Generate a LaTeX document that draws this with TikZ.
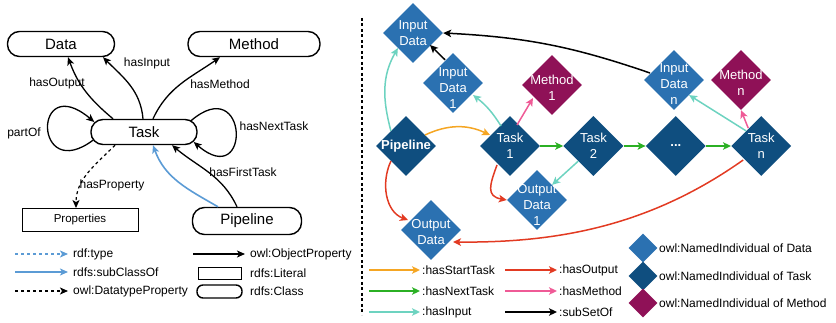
\documentclass[tikz,border=0pt]{standalone}
\usepackage{fontspec}
\setmainfont{Liberation Sans}
\usetikzlibrary{positioning, arrows.meta, shapes.geometric}
\definecolor{datablue}{HTML}{2B71B1}
\definecolor{taskblue}{HTML}{0F4E7F}
\definecolor{methpurple}{HTML}{8F1157}
\definecolor{subblue}{HTML}{5B9BD5}
\definecolor{inteal}{HTML}{6DD3C0}
\definecolor{startorange}{HTML}{F5A623}
\definecolor{nextgreen}{HTML}{2BB024}
\definecolor{outred}{HTML}{E23A22}
\definecolor{methpink}{HTML}{EF5A96}

\begin{document}
\begin{tikzpicture}[x=1pt, y=1pt,
    cls/.style={draw, line width=1.4pt, rounded corners=12pt, minimum height=25pt,
      inner sep=0pt, font=\fontsize{15}{17}\selectfont},
    lit/.style={draw, line width=0.9pt, minimum height=23pt, inner sep=0pt,
      font=\fontsize{11.5}{13}\selectfont},
    lbl/.style={font=\fontsize{12}{14}\selectfont, inner sep=0pt},
    leg/.style={font=\fontsize{12}{14}\selectfont, anchor=west, inner sep=0pt},
    ind/.style={diamond, minimum size=60pt, inner sep=0pt, fill=#1},
    dtxt/.style={text=white, font=\fontsize{13}{16}\selectfont, align=center, inner sep=0pt},
    obj/.style={-{Stealth[length=8pt, width=7pt, inset=2pt]}, line width=1.3pt},
    subc/.style={-{Stealth[length=8pt, width=7pt, inset=2pt]}, subblue, line width=1.6pt},
    rdft/.style={subc, line width=1.2pt, dash pattern=on 3pt off 3pt},
    dtp/.style={obj, line width=1.2pt, dash pattern=on 3pt off 3pt},
    arr/.style={-{Stealth[length=8pt, width=7.5pt, inset=2pt]}, line width=1.5pt, #1},
    hstart/.style={arr=startorange}, hnext/.style={arr=nextgreen},
    hin/.style={arr=inteal}, hout/.style={arr=outred},
    hmeth/.style={arr=methpink}, sub/.style={arr=black}]
  \useasboundingbox (0,0) rectangle (836,-323);

  % ontology classes
  \node[cls, minimum width=107pt] (data) at (61,-44) {Data};
  \node[cls, minimum width=132pt] (method) at (254,-44) {Method};
  \node[cls, minimum width=106pt] (task) at (144,-132) {Task};
  \node[cls, minimum width=109pt, minimum height=27pt] (pipeline) at (247,-221) {Pipeline};
  \node[lit, minimum width=116pt] (props) at (80,-220) {Properties};

  \draw[obj] ([xshift=-31pt]task.north) to[out=140, in=-70] ([xshift=7pt]data.south);
  \draw[obj] ([xshift=-1pt]task.north) to[out=95, in=-45] ([xshift=42pt]data.south);
  \draw[obj] ([xshift=9pt]task.north) to[out=65, in=-145] ([xshift=-34pt]method.south);
  \draw[obj] ([shift={(3,-8)}]task.west) .. controls +(-60,-45) and +(-62,52) .. ([shift={(4,10)}]task.west);
  \draw[obj] ([shift={(-7,11)}]task.east) .. controls +(58,50) and +(58,-50) .. ([shift={(-4,-10)}]task.east);
  \draw[subc] ([xshift=-29pt]pipeline.north) to[out=150, in=-70] ([xshift=9pt]task.south);
  \draw[obj] ([xshift=-10pt]pipeline.north) to[out=115, in=-40] ([xshift=28pt]task.south);
  \draw[dtp] ([xshift=-29pt]task.south) to[out=-135, in=90] ([xshift=-4pt]props.north);

  \node[lbl] (l-out) at (57,-83) {hasOutput};
  \node[lbl] (l-in) at (147,-63) {hasInput};
  \node[lbl] (l-meth) at (220,-84) {hasMethod};
  \node[lbl] (l-part) at (24,-133) {partOf};
  \node[lbl] (l-next) at (274,-126) {hasNextTask};
  \node[lbl] (l-first) at (243,-172) {hasFirstTask};
  \node[lbl] (l-prop) at (112,-185) {hasProperty};

  % legend, left
  \coordinate (lg1) at (15,-254);
  \coordinate (lg2) at (15,-272);
  \coordinate (lg3) at (15,-291);
  \coordinate (lg4) at (193,-254);
  \node[leg] (lg-type) at (73,-254) {rdf:type};
  \node[leg] (lg-sub) at (73,-272) {rdfs:subClassOf};
  \node[leg] (lg-dtp) at (73,-291) {owl:DatatypeProperty};
  \node[leg] (lg-obj) at (250,-254) {owl:ObjectProperty};
  \node[draw, line width=0.8pt, minimum width=43pt, minimum height=12pt, inner sep=0pt] (lg-litbox) at (219.5,-273) {};
  \node[leg] (lg-lit) at (250,-273) {rdfs:Literal};
  \node[draw, line width=1.4pt, rounded corners=6pt, minimum width=45pt, minimum height=13pt, inner sep=0pt] (lg-clsbox) at (219.5,-291.5) {};
  \node[leg] (lg-cls) at (250,-291) {rdfs:Class};
  \draw[rdft] (lg1) -- ([xshift=-5pt]lg-type.west);
  \draw[subc] (lg2) -- ([xshift=-5pt]lg-sub.west);
  \draw[dtp] (lg3) -- ([xshift=-5pt]lg-dtp.west);
  \draw[obj] (lg4) -- ([xshift=-5pt]lg-obj.west);

  % separator
  \draw[line width=1.2pt, dash pattern=on 3pt off 2.5pt] (362,-18) -- (362,-315);

  % individuals
  \node[ind=datablue, label={[dtxt]center:Input\\Data}] (indata) at (413,-33) {};
  \node[ind=datablue, label={[dtxt, yshift=-5pt]center:Input\\Data\\1}] (in1) at (453,-83) {};
  \node[ind=methpurple, label={[dtxt, yshift=-3pt]center:Method\\1}] (meth1) at (552,-85) {};
  \node[ind=datablue, label={[dtxt, yshift=-4pt]center:Input\\Data\\n}] (inn) at (674,-80) {};
  \node[ind=methpurple, label={[dtxt, yshift=-3pt]center:Method\\n}] (methn) at (741,-80) {};
  \node[ind=taskblue, label={[dtxt, font=\fontsize{13}{16}\selectfont\bfseries]center:Pipeline}] (pipe) at (406,-146) {};
  \node[ind=taskblue, label={[dtxt]center:Task\\1}] (t1) at (510,-146) {};
  \node[ind=taskblue, right=23pt of t1, label={[dtxt]center:Task\\2}] (t2) {};
  \node[ind=taskblue, right=22pt of t2, label={[dtxt]center:\textbf{...}}] (tdots) {};
  \node[ind=taskblue, right=25pt of tdots, label={[dtxt]center:Task\\n}] (tn) {};
  \node[ind=datablue, label={[dtxt, yshift=-5pt]center:Output\\Data\\1}] (out1) at (537,-200) {};
  \node[ind=datablue, label={[dtxt, yshift=-2pt]center:Output\\Data}] (outdata) at (431,-230) {};

  \draw[hin] (pipe.north west) to[out=105, in=-120] (indata.south west);
  \draw[sub] ([shift={(-8,-7)}]in1.north) -- ([shift={(17,-12)}]indata.center);
  \draw[sub] ([shift={(-24,7)}]inn.center) to[bend right=8] (indata.east);
  \draw[hin] ([shift={(-9,20)}]t1.center) to[bend right=10] ([shift={(20,-12)}]in1.center);
  \draw[hmeth] ([shift={(7,21)}]t1.center) -- ([shift={(-19,-13)}]meth1.center);
  \draw[hstart] ([shift={(19,11)}]pipe.center) to[bend left=25] ([shift={(-20,11)}]t1.center);
  \draw[hnext] (t1) -- (t2);
  \draw[hnext] (t2) -- (tdots);
  \draw[hnext] (tdots) -- (tn);
  \draw[hin] (t2.south west) -- (out1.north east);
  \draw[hout] ([shift={(-13,-19)}]t1.center) to[out=-110, in=170, looseness=1.5] (out1.west);
  \draw[hout] (pipe.south west) to[out=-115, in=160] ([shift={(-23,10)}]outdata.center);
  \draw[hout] ([shift={(-18,-14)}]tn.center) .. controls +(-92,-65) and +(107,-1) .. ([shift={(22,-12)}]outdata.center);
  \draw[hin] (tn.north west) -- (inn.south east);
  \draw[hmeth] ([shift={(-13,18)}]tn.center) -- (methn.south);

  % legend, right
  \coordinate (lr1) at (369,-270);
  \coordinate (lr2) at (369,-291);
  \coordinate (lr3) at (369,-312);
  \coordinate (lr4) at (505,-270);
  \coordinate (lr5) at (505,-291);
  \coordinate (lr6) at (505,-312);
  \node[leg] (lr-start) at (422,-270) {:hasStartTask};
  \node[leg] (lr-next) at (422,-291) {:hasNextTask};
  \node[leg] (lr-in) at (422,-312) {:hasInput};
  \node[leg] (lr-out) at (559,-270) {:hasOutput};
  \node[leg] (lr-meth) at (559,-291) {:hasMethod};
  \node[leg] (lr-sub) at (559,-312) {:subSetOf};
  \draw[hstart] (lr1) -- ([xshift=-2pt]lr-start.west);
  \draw[hnext] (lr2) -- ([xshift=-2pt]lr-next.west);
  \draw[hin] (lr3) -- ([xshift=-2pt]lr-in.west);
  \draw[hout] (lr4) -- ([xshift=-2pt]lr-out.west);
  \draw[hmeth] (lr5) -- ([xshift=-2pt]lr-meth.west);
  \draw[sub] (lr6) -- ([xshift=-2pt]lr-sub.west);

  \node[ind=datablue, minimum size=29pt] (lr-data) at (643,-248) {};
  \node[ind=taskblue, minimum size=29pt] (lr-task) at (643,-276) {};
  \node[ind=methpurple, minimum size=29pt] (lr-method) at (643,-303) {};
  \node[leg] (lr-datatxt) at (659,-248) {owl:NamedIndividual of Data};
  \node[leg] (lr-tasktxt) at (659,-276) {owl:NamedIndividual of Task};
  \node[leg] (lr-methtxt) at (659,-303) {owl:NamedIndividual of Method};
\end{tikzpicture}
\end{document}
